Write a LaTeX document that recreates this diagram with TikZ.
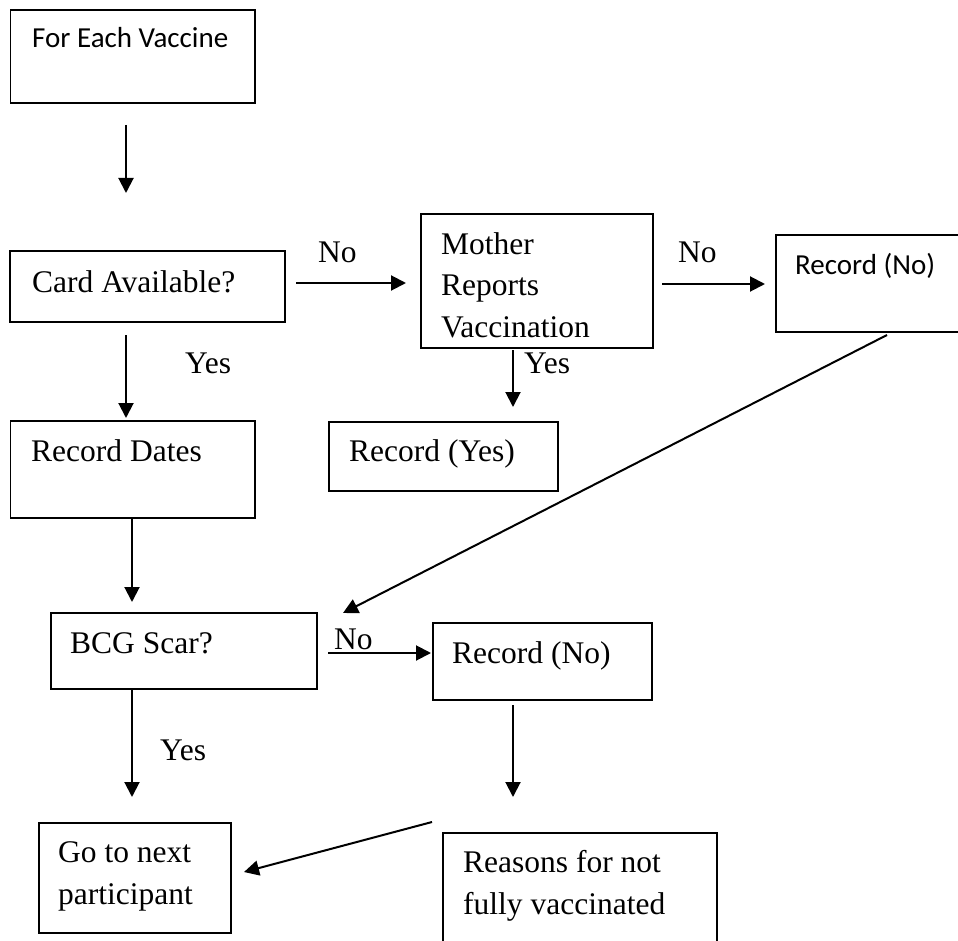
\documentclass[tikz,border=0pt]{standalone}
\usepackage{fontspec}
\setmainfont{Liberation Serif}
\newfontfamily\calibrifont{Carlito}
\usetikzlibrary{arrows.meta}

\begin{document}
\begin{tikzpicture}
  [x=1pt,y=-1pt,
   box/.style={draw,line width=1.6pt,inner sep=0pt,anchor=north west},
   txt/.style={inner sep=0pt,anchor=base west,align=left,
     font=\fontsize{31.5}{41.5}\selectfont},
   stxt/.style={txt,font=\calibrifont\fontsize{29}{35}\selectfont},
   arr/.style={line width=2pt,-{Triangle[length=15pt,width=15pt]}}]

  \useasboundingbox (0,0) rectangle (958,941);
  \clip (0,0) rectangle (958,941);

  % boxes
  \node[box,minimum width=244.5,minimum height=93] (vac) at (9.5,9) {};
  \node[box,minimum width=275,minimum height=71] (card) at (9,250) {};
  \node[box,minimum width=232,minimum height=134] (moth) at (420,213) {};
  \node[box,minimum width=200,minimum height=97] (recnoA) at (775,234) {};
  \node[box,minimum width=244.5,minimum height=97] (dates) at (9.5,420) {};
  \node[box,minimum width=229,minimum height=69] (recyes) at (328,421) {};
  \node[box,minimum width=266,minimum height=76] (bcg) at (50,612) {};
  \node[box,minimum width=219,minimum height=77] (recnoB) at (432,622) {};
  \node[box,minimum width=192,minimum height=110] (nextp) at (38,822) {};
  \node[box,minimum width=274,minimum height=130] (reasons) at (442,832) {};

  % box texts (base = last line)
  \node[stxt] (vac-t) at (32,48) {For Each Vaccine};
  \node[txt] (card-t) at (32,292) {Card Available?};
  \node[txt] (moth-t) at (441,337) {Mother\\Reports\\Vaccination};
  \node[stxt] (recnoA-t) at (795,275) {Record (No)};
  \node[txt] (dates-t) at (31,461) {Record Dates};
  \node[txt] (recyes-t) at (349,461) {Record (Yes)};
  \node[txt] (bcg-t) at (70,653) {BCG Scar?};
  \node[txt] (recnoB-t) at (452,663) {Record (No)};
  \node[txt] (nextp-t) at (58,904) {Go to next\\participant};
  \node[txt] (reasons-t) at (463,914) {Reasons for not\\fully vaccinated};

  % yes / no
  \node[txt] (yes1) at (185,373) {Yes};
  \node[txt] (no1) at (318,263) {No};
  \node[txt] (no2) at (678,263) {No};
  \node[txt] (yes2) at (524,373) {Yes};
  \node[txt] (no3) at (334,649) {No};
  \node[txt] (yes3) at (160,760) {Yes};

  % arrow ends
  \coordinate (a1s) at (126,125);  \coordinate (a1e) at (126,193);
  \coordinate (a2s) at (126,335);  \coordinate (a2e) at (126,418);
  \coordinate (a3s) at (296,283);  \coordinate (a3e) at (406,283);
  \coordinate (a4s) at (662,284);  \coordinate (a4e) at (765,284);
  \coordinate (a5s) at (513,350);  \coordinate (a5e) at (513,407);
  \coordinate (a6s) at (887,335);  \coordinate (a6e) at (343,613);
  \coordinate (a7s) at (132,517);  \coordinate (a7e) at (132,602);
  \coordinate (a8s) at (328,653);  \coordinate (a8e) at (431,653);
  \coordinate (a9s) at (132,688);  \coordinate (a9e) at (132,797);
  \coordinate (a10s) at (513,705); \coordinate (a10e) at (513,797);
  \coordinate (a11s) at (432,822); \coordinate (a11e) at (244,872);

  \foreach \from/\to in
  {a1s/a1e,a2s/a2e,a3s/a3e,a4s/a4e,a5s/a5e,a6s/a6e,a7s/a7e,
   a8s/a8e,a9s/a9e,a10s/a10e,a11s/a11e}
    \draw[arr] (\from) -- (\to);
\end{tikzpicture}
\end{document}
